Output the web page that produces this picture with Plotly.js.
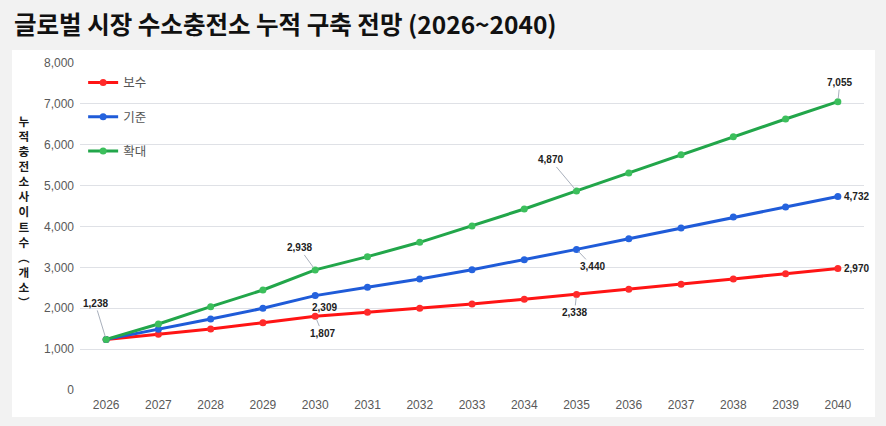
<!DOCTYPE html>
<html>
<head>
<meta charset="utf-8">
<script src="https://cdn.plot.ly/plotly-3.0.1.min.js"></script>
<style>
html,body{margin:0;padding:0;background:#f2f2f2;}
#chart{width:886px;height:426px;}
</style>
</head>
<body>
<div id="chart"></div>
<script>
const years = [2026,2027,2028,2029,2030,2031,2032,2033,2034,2035,2036,2037,2038,2039,2040];
const seriesNames = ["보수","기준","확대"];
const conservative = [1238,1364,1492,1646,1807,1900,1998,2104,2218,2338,2463,2585,2715,2846,2970];
const baseline = [1238,1484,1737,1998,2309,2512,2716,2944,3189,3440,3702,3963,4232,4477,4732];
const expanded = [1238,1615,2038,2446,2938,3262,3613,4012,4428,4870,5309,5757,6198,6630,7055];
const yTickVals = [0,1000,2000,3000,4000,5000,6000,7000,8000];
const titleText = "글로벌 시장 수소충전소 누적 구축 전망 (2026~2040)";
const yTitleText = "누적 충전소 사이트 수(개소)";

const allSeries = [conservative, baseline, expanded];
const lineColors = ["#ff1414","#1f5bd8","#22a64a"];
const markerColors = ["#ff2a2a","#2563de","#3cbf5c"];

const traces = allSeries.map((vals, i) => ({
  type: "scatter",
  mode: "lines+markers",
  name: seriesNames[i],
  legendgroup: "g" + i,
  x: years,
  y: vals,
  line: {color: lineColors[i], width: 3},
  marker: {color: markerColors[i], size: 7},
  hoverinfo: "x+y"
}));

// labelled points: [series index, year index, ax, ay, showArrow]
const labelSpecs = [
  [2, 0, -11, -36, true],
  [2, 4, -16, -22, true],
  [1, 4, 9, 12, false],
  [0, 4, 7, 17, true],
  [2, 9, -26, -31, true],
  [1, 9, 16, 17, true],
  [0, 9, -2, 18, true],
  [2, 14, 2, -19, true],
  [1, 14, 19, 0, false],
  [0, 14, 19, 0, false]
];

const annotations = labelSpecs.map(s => {
  const v = allSeries[s[0]][s[1]];
  const base = {
    x: years[s[1]], y: v, xref: "x", yref: "y",
    text: "<b>" + v.toLocaleString("en-US") + "</b>",
    font: {family: "Liberation Sans, Arial, sans-serif", size: 10, color: "#222222"}
  };
  if (s[4]) {
    return Object.assign(base, {showarrow: true, arrowhead: 0, arrowwidth: 1, arrowcolor: "#a9b0bc", ax: s[2], ay: s[3], standoff: 3});
  }
  return Object.assign(base, {showarrow: false, xshift: s[2], yshift: -s[3]});
});

// vertical (stacked) y-axis title
const vChars = Array.from(yTitleText.replace(/ /g, "")).map(c => c === "(" ? "︵" : (c === ")" ? "︶" : c));
annotations.push({
  xref: "paper", yref: "paper",
  x: (24 - 80) / 784, y: (390 - 211) / 327,
  xanchor: "center", yanchor: "middle",
  showarrow: false,
  text: "<b>" + vChars.join("<br>") + "</b>",
  font: {family: "Noto Sans CJK KR, sans-serif", size: 11.6, color: "#1a1a1a"}
});

const layout = {
  width: 886, height: 426,
  margin: {l: 80, r: 22, t: 63, b: 36},
  paper_bgcolor: "#f2f2f2",
  plot_bgcolor: "#ffffff",
  title: {
    text: "<b>" + titleText + "</b>",
    x: 14/886, xanchor: "left", xref: "container",
    y: 1 - 25/426, yanchor: "middle", yref: "container",
    font: {family: "Noto Sans CJK KR, sans-serif", size: 24.5, color: "#111111"}
  },
  xaxis: {
    range: [2025.5, 2040.5],
    tickvals: years,
    ticktext: years.map(String),
    showgrid: false, zeroline: false, showline: false,
    ticks: "",
    ticklabelstandoff: 6,
    tickfont: {family: "Liberation Sans, Arial, sans-serif", size: 12, color: "#595959"}
  },
  yaxis: {
    range: [0, 8000],
    tickvals: yTickVals,
    ticktext: yTickVals.map(v => v.toLocaleString("en-US")),
    showgrid: true, gridcolor: "#dfe1e6", gridwidth: 1,
    zeroline: false, showline: false, ticks: "",
    ticklabelstandoff: 5,
    tickfont: {family: "Liberation Sans, Arial, sans-serif", size: 12, color: "#595959"}
  },
  showlegend: true,
  legend: {
    x: 0.004, y: 0.985, xanchor: "left", yanchor: "top",
    bgcolor: "rgba(0,0,0,0)",
    tracegroupgap: 15,
    font: {family: "Noto Sans CJK KR, sans-serif", size: 12.5, color: "#555555"}
  },
  shapes: [{
    type: "rect", xref: "paper", yref: "paper", layer: "below",
    x0: -0.0867, x1: 1.014, y0: -0.0826, y1: 1.0398,
    fillcolor: "#ffffff", line: {width: 0}
  }],
  annotations: annotations
};

Plotly.newPlot("chart", traces, layout, {displayModeBar: false, staticPlot: true});
</script>
</body>
</html>
